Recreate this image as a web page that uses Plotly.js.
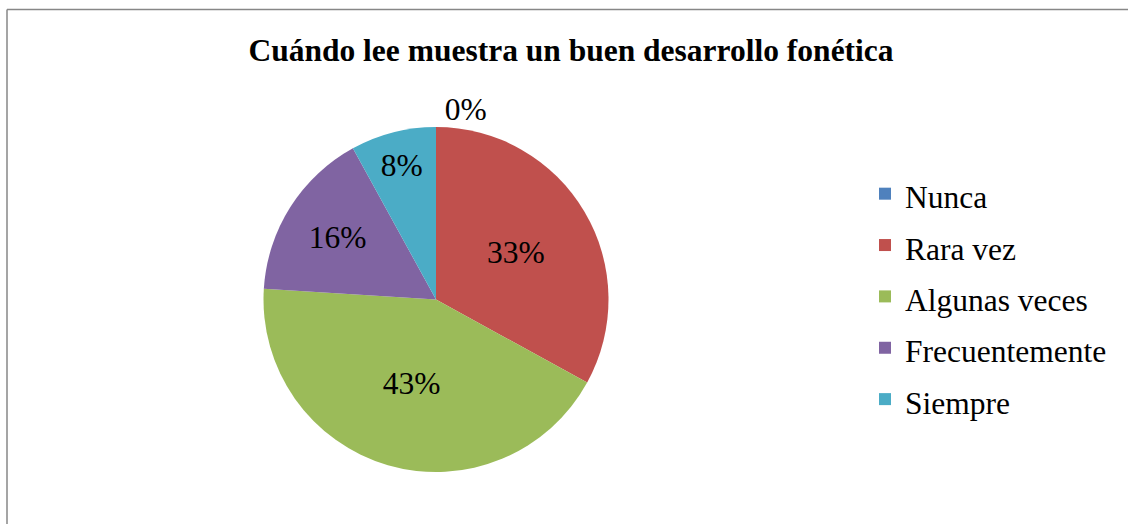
<!DOCTYPE html>
<html>
<head>
<meta charset="utf-8">
<script src="https://cdn.plot.ly/plotly-3.0.1.min.js"></script>
<style>
html,body{margin:0;padding:0;background:#fff;overflow:hidden;}
#chart{width:1128px;height:524px;}
</style>
</head>
<body>
<div id="chart"></div>
<script>
var categories = ["Nunca", "Rara vez", "Algunas veces", "Frecuentemente", "Siempre"];
var values = [0, 33, 43, 16, 8];
var colors = ["#4F81BD", "#C0504D", "#9BBB59", "#8064A2", "#4BACC6"];
var textPositions = ["outside", "inside", "inside", "inside", "inside"];
var titleText = "Cuándo lee muestra un buen desarrollo fonética";

var W = 1128, H = 524;
var cx = 436, cy = 299.5, R = 172.5, halfH = 215;
var FONT = "Liberation Serif";
var FS = 31.5;

// legend rows use a larger line height than the text itself
var legendLabels = categories.map(function (c) {
  return '<span style="font-size:' + FS + 'px">' + c + '</span>';
});

var trace = {
  type: "pie",
  labels: legendLabels,
  values: values,
  sort: false,
  direction: "clockwise",
  rotation: 0,
  marker: {colors: colors, line: {width: 0}},
  textinfo: "percent",
  textposition: textPositions,
  insidetextorientation: "horizontal",
  textfont: {family: FONT, size: FS, color: "#000"},
  insidetextfont: {family: FONT, size: FS, color: "#000"},
  outsidetextfont: {family: FONT, size: FS, color: "#000"},
  domain: {
    x: [(cx - R) / W, (cx + R) / W],
    y: [(H - cy - halfH) / H, (H - cy + halfH) / H]
  },
  hoverinfo: "percent"
};

var layout = {
  width: W,
  height: H,
  margin: {l: 0, r: 0, t: 0, b: 0},
  paper_bgcolor: "#fff",
  plot_bgcolor: "#fff",
  showlegend: true,
  font: {family: FONT, color: "#000"},
  title: {
    text: "<b>" + titleText + "</b>",
    font: {family: FONT, size: FS, color: "#000"},
    x: 571 / W,
    xanchor: "center",
    xref: "paper",
    y: 1 - 50 / H,
    yanchor: "middle",
    yref: "container"
  },
  legend: {
    x: 865 / W,
    xanchor: "left",
    y: 1 - 163 / H,
    yanchor: "top",
    font: {family: FONT, size: 37.2, color: "#000"},
    bgcolor: "rgba(0,0,0,0)"
  },
  shapes: [
    {type: "line", xref: "paper", yref: "paper", x0: 7 / W, x1: 1, y0: 1 - 9.5 / H, y1: 1 - 9.5 / H,
     line: {color: "#878787", width: 1.5}},
    {type: "line", xref: "paper", yref: "paper", x0: 7 / W, x1: 7 / W, y0: 0, y1: 1 - 9.5 / H,
     line: {color: "#878787", width: 1.5}}
  ]
};

Plotly.newPlot("chart", [trace], layout, {displayModeBar: false, staticPlot: true});
</script>
</body>
</html>
